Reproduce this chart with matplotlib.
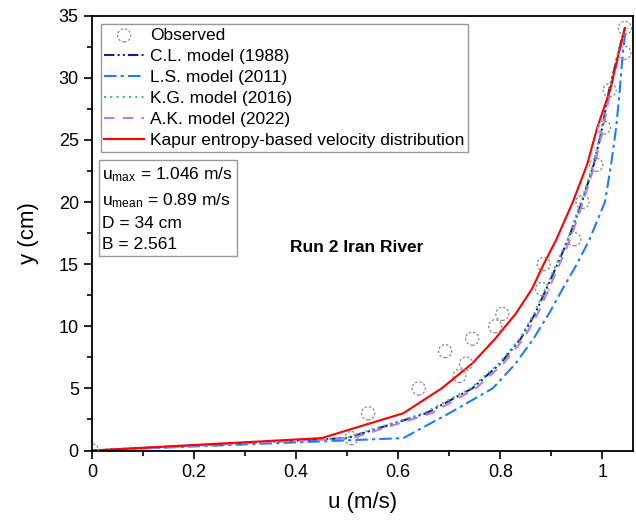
import numpy as np
import matplotlib
matplotlib.use("Agg")
import matplotlib.pyplot as plt
from matplotlib.ticker import MultipleLocator, FormatStrFormatter

plt.rcParams['font.family'] = ['Liberation Sans', 'DejaVu Sans']
plt.rcParams['mathtext.fontset'] = 'custom'
plt.rcParams['mathtext.rm'] = 'Liberation Sans'

# observed points
obs_u = [0, 0.508, 0.541, 0.64, 0.692, 0.72, 0.733, 0.745, 0.79, 0.804,
         0.882, 0.885, 0.945, 0.961, 0.988, 1.003, 1.014, 1.043, 1.044]
obs_y = [0, 1, 3, 5, 8, 6, 7, 9, 10, 11, 13, 15, 17, 20, 23, 26, 29, 32, 34]

# model curves, evaluated at these depths
model_y = [0, 1, 3, 5, 7, 9, 11, 13, 15, 17, 20, 23, 26, 29, 32, 34]
cl_u = [0, 0.500, 0.655, 0.745, 0.800, 0.840, 0.868, 0.890, 0.912, 0.933,
        0.960, 0.983, 1.000, 1.013, 1.031, 1.044]
ls_u = [0, 0.610, 0.700, 0.785, 0.830, 0.865, 0.895, 0.922, 0.950, 0.975,
        1.005, 1.017, 1.027, 1.034, 1.040, 1.046]
kg_u = [0, 0.495, 0.650, 0.742, 0.797, 0.838, 0.866, 0.888, 0.910, 0.932,
        0.958, 0.982, 0.999, 1.013, 1.031, 1.044]
ak_u = [0, 0.510, 0.665, 0.752, 0.806, 0.846, 0.873, 0.895, 0.916, 0.937,
        0.962, 0.985, 1.002, 1.016, 1.033, 1.044]
kapur_u = [0, 0.450, 0.610, 0.685, 0.745, 0.790, 0.830, 0.862, 0.885, 0.910,
           0.942, 0.970, 0.990, 1.015, 1.032, 1.044]

fig = plt.figure(figsize=(6.36, 5.21), dpi=100)
ax = fig.add_axes([0.1447, 0.1353, 0.8506, 0.8347])

ax.scatter(obs_u, obs_y, s=90, facecolors='none', edgecolors='#8c8c8c',
           linestyle=(0, (2, 1.5)), linewidths=0.9, label='Observed', zorder=3)
ax.plot(cl_u, model_y, color='#1c1c8a', lw=1.5,
        linestyle=(0, (5, 1.5, 1, 1.5, 1, 1.5)), label='C.L. model (1988)')
ax.plot(ls_u, model_y, color='#1f7cff', lw=1.5,
        linestyle=(0, (6, 2, 1.5, 2)), label='L.S. model (2011)')
ax.plot(kg_u, model_y, color='#3cbf86', lw=1.5,
        linestyle=(0, (1, 2)), label='K.G. model (2016)')
ax.plot(ak_u, model_y, color='#b47cf0', lw=1.5,
        linestyle=(0, (5, 4)), label='A.K. model (2022)')
ax.plot(kapur_u, model_y, color='#ff0000', lw=1.5,
        label='Kapur entropy-based velocity distribution')

ax.set_xlim(0, 1.06)
ax.set_ylim(0, 35)
ax.xaxis.set_major_locator(MultipleLocator(0.2))
ax.xaxis.set_minor_locator(MultipleLocator(0.1))
ax.yaxis.set_major_locator(MultipleLocator(5))
ax.yaxis.set_minor_locator(MultipleLocator(2.5))
ax.xaxis.set_major_formatter(FormatStrFormatter('%g'))
ax.tick_params(which='major', direction='out', length=6, width=1.2, labelsize=13)
ax.tick_params(which='minor', direction='out', length=3.5, width=1.2)
for sp in ax.spines.values():
    sp.set_linewidth(1.3)

ax.set_xlabel('u (m/s)', fontsize=16, labelpad=8)
ax.set_ylabel('y (cm)', fontsize=16, labelpad=14)

leg = ax.legend(loc='upper left', fontsize=12.5, frameon=True, fancybox=False,
                edgecolor='#999999', handlelength=2.3, handletextpad=0.35,
                labelspacing=0.34, borderpad=0.2, borderaxespad=0.5,
                framealpha=1)
leg.get_frame().set_linewidth(1.0)

info = ('$\\mathregular{u_{max}}$ = 1.046 m/s\n'
        '$\\mathregular{u_{mean}}$ = 0.89 m/s\n'
        'D = 34 cm\n'
        'B = 2.561')
ax.text(0.019, 0.655, info, transform=ax.transAxes, fontsize=12.5,
        va='top', ha='left', linespacing=1.5,
        bbox=dict(boxstyle='square,pad=0.2', facecolor='white',
                  edgecolor='#999999', linewidth=1.0))

ax.text(0.518, 16.3, 'Run 2 Iran River', fontsize=12.5, fontweight='bold',
        ha='center', va='center')

fig.savefig('out.png', dpi=100)
